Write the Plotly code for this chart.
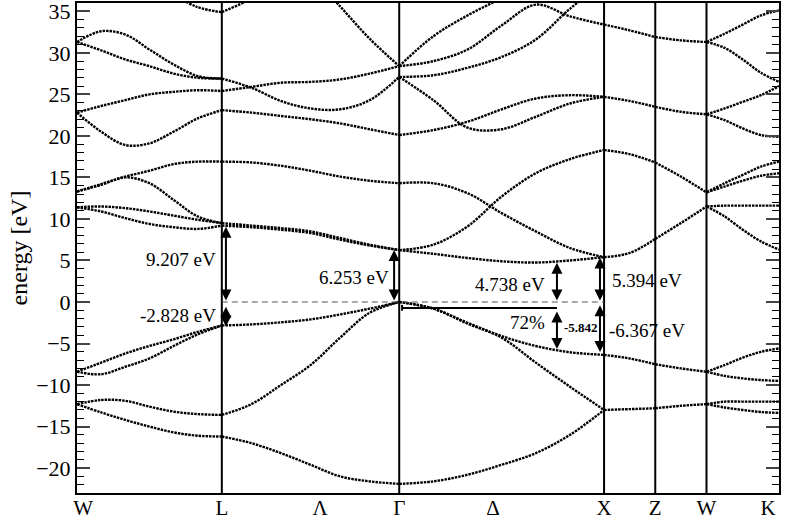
import numpy as np
import plotly.graph_objects as go

# points de haute symétrie (chemin fcc W-L-Γ-X-Z-W-K, unités 2π/a)
K_W1, K_L, K_G, K_X, K_Z, K_W2, K_K = 0.0, 0.707, 1.573, 2.573, 2.823, 3.073, 3.427
TICK_POS = [0.03, K_L, 1.187, K_G, 2.031, K_X, K_Z, K_W2, 3.374]
TICK_TEXT = ["W", "L", "Λ", "Γ", "Δ", "X", "Z", "W", "K"]

# énergies des bandes [eV]
BANDS_WL = [
    [-12.3, -13.3, -14.2, -15.0, -15.7, -16.1, -16.2],
    [-12.3, -11.8, -11.9, -12.6, -13.2, -13.5, -13.6],
    [-8.4, -7.3, -6.2, -5.3, -4.5, -3.6, -2.83],
    [-8.4, -8.7, -7.8, -6.8, -5.3, -3.9, -2.83],
    [11.4, 11.5, 11.3, 10.9, 10.4, 9.9, 9.5],
    [11.4, 10.9, 10.1, 9.4, 9.0, 8.8, 9.2],
    [13.3, 14.1, 15.0, 14.3, 12.3, 10.3, 9.5],
    [13.3, 14.2, 15.1, 15.8, 16.6, 16.9, 16.9],
    [22.8, 23.6, 24.3, 25.0, 25.3, 25.5, 25.4],
    [22.8, 20.5, 18.9, 19.1, 20.5, 22.1, 23.1],
    [31.3, 32.6, 32.2, 30.4, 28.6, 27.2, 26.9],
    [31.3, 30.3, 29.2, 28.4, 27.5, 27.0, 26.9],
    [None, None, None, None, 37.0, 35.5, 34.9],
]
BANDS_LG = [
    [34.9, 36.5, 38.5, None, None, None, None],
    [None, None, None, 39.5, 35.6, 31.7, 28.4],
    [26.9, 25.8, 24.2, 23.3, 23.2, 24.3, 27.1],
    [25.4, 25.9, 26.4, 26.5, 26.8, 27.5, 28.4],
    [23.1, 22.8, 22.4, 22.0, 21.5, 20.8, 20.1],
    [16.9, 16.8, 16.4, 15.8, 15.1, 14.6, 14.3],
    [9.5, 9.2, 8.9, 8.5, 7.7, 6.9, 6.25],
    [9.2, 9.0, 8.7, 8.3, 7.5, 6.8, 6.25],
    [-2.83, -2.7, -2.45, -2.1, -1.5, -0.8, 0.0],
    [-13.6, -12.3, -10.0, -7.6, -4.3, -1.3, 0.0],
    [-16.2, -17.0, -18.2, -19.6, -21.0, -21.6, -21.9],
]
BANDS_GX = [
    [28.4, 32.0, 34.5, 36.6, 38.8, None, None],
    [28.4, 29.0, 30.4, 33.3, 35.8, 34.4, 33.4],
    [27.1, 27.3, 28.2, 29.5, 31.6, 35.3, 38.5],
    [27.1, 24.3, 21.0, 20.8, 22.3, 23.9, 24.7],
    [20.1, 20.7, 21.7, 23.2, 24.5, 24.9, 24.7],
    [14.3, 14.3, 13.1, 10.7, 8.5, 6.5, 5.4],
    [6.25, 6.9, 9.1, 12.7, 15.5, 17.2, 18.3],
    [6.25, 5.8, 5.3, 4.9, 4.75, 5.0, 5.4],
    [0.0, -0.8, -2.5, -4.1, -5.3, -6.05, -6.37],
    [0.0, -0.8, -2.6, -4.3, -7.3, -10.2, -13.0],
    [-21.9, -21.6, -20.8, -19.6, -18.2, -16.0, -13.0],
]
BANDS_XZ = [
    [33.4, 32.7, 31.9],
    [24.7, 24.2, 23.5],
    [18.3, 17.8, 16.8],
    [5.4, 5.9, 7.6],
    [-6.37, -6.8, -7.5],
    [-13.0, -12.9, -12.8],
]
BANDS_ZW = [
    [31.9, 31.5, 31.3],
    [23.5, 22.9, 22.6],
    [16.8, 15.1, 13.2],
    [7.6, 9.5, 11.5],
    [-7.5, -8.0, -8.4],
    [-12.8, -12.5, -12.3],
]
BANDS_WK = [
    [31.3, 32.3, 33.4, 34.5, 35.1],
    [31.3, 30.6, 29.2, 27.6, 26.5],
    [22.6, 23.3, 24.1, 24.9, 26.0],
    [22.6, 21.9, 20.9, 20.1, 19.9],
    [13.2, 14.3, 15.3, 16.3, 16.9],
    [13.2, 13.9, 14.6, 15.2, 15.5],
    [11.5, 11.6, 11.6, 11.6, 11.6],
    [11.5, 10.3, 8.7, 7.3, 6.3],
    [-8.4, -7.6, -6.7, -6.0, -5.6],
    [-8.4, -8.9, -9.2, -9.4, -9.5],
    [-12.3, -12.0, -12.0, -12.0, -12.0],
    [-12.3, -12.7, -13.0, -13.25, -13.35],
]

SEGMENTS = [
    (K_W1, K_L, BANDS_WL),
    (K_L, K_G, BANDS_LG),
    (K_G, K_X, BANDS_GX),
    (K_X, K_Z, BANDS_XZ),
    (K_Z, K_W2, BANDS_ZW),
    (K_W2, K_K, BANDS_WK),
]

# flèches de gap : (x, E bas, E haut)
ARROW_X = [K_L + 0.020, K_L + 0.020, K_G - 0.025, 2.343, 2.343, K_X - 0.020, K_X - 0.020]
ARROW_E0 = [0.0, -0.4, 0.0, 0.0, -5.84, 0.0, -6.2]
ARROW_E1 = [9.07, -2.95, 6.25, 4.72, -1.15, 5.35, -0.4]

# étiquettes : texte, position, ancrage
LABEL_TEXT = ["9.207 eV", "-2.828 eV", "6.253 eV", "4.738 eV", "72%", "-5.842", "5.394 eV", "-6.367 eV"]
LABEL_X = [0.686, 0.690, 1.535, 2.296, 2.296, 2.370, 2.600, 2.585]
LABEL_E = [5.1, -1.6, 3.0, 2.05, -2.5, -3.1, 2.6, -3.4]
LABEL_ANCHOR = ["right", "right", "right", "right", "right", "left", "left", "left"]

FONT = "Liberation Serif"

fig = go.Figure()

for k0, k1, bands in SEGMENTS:
    for b in bands:
        xs = np.linspace(k0, k1, len(b))
        fig.add_trace(go.Scatter(
            x=xs, y=b, mode="lines", showlegend=False, hoverinfo="skip",
            line=dict(color="black", width=2.4, dash="2.5px,1px", shape="spline", smoothing=1.0),
        ))

# lignes verticales aux points de haute symétrie
for k in [K_L, K_G, K_X, K_Z, K_W2]:
    fig.add_shape(type="line", x0=k, x1=k, y0=0, y1=1, xref="x", yref="paper",
                  line=dict(color="black", width=2))

# niveau de référence (tirets) entre L et X
fig.add_shape(type="line", x0=K_L, x1=K_X, y0=0, y1=0, xref="x", yref="y",
              line=dict(color="#555555", width=1.2, dash="6px,4px"))

# barre 72%
fig.add_shape(type="line", x0=1.587, x1=2.343, y0=-0.72, y1=-0.72,
              line=dict(color="black", width=2))
fig.add_shape(type="line", x0=1.587, x1=1.587, y0=-0.35, y1=-1.05,
              line=dict(color="black", width=2))

for x, e0, e1 in zip(ARROW_X, ARROW_E0, ARROW_E1):
    fig.add_annotation(x=x, y=e1, ax=x, ay=e0, xref="x", yref="y", axref="x", ayref="y",
                       text="", showarrow=True, arrowside="end+start", arrowhead=2,
                       arrowsize=1.1, arrowwidth=2, arrowcolor="black", standoff=0, startstandoff=0)

for t, x, e, anc in zip(LABEL_TEXT, LABEL_X, LABEL_E, LABEL_ANCHOR):
    bold = t == "-5.842"
    fig.add_annotation(x=x, y=e, xref="x", yref="y", text=f"<b>{t}</b>" if bold else t,
                       showarrow=False, xanchor=anc, yanchor="middle",
                       font=dict(family=FONT, size=13 if bold else 19, color="black"))

fig.update_layout(
    width=790, height=522,
    margin=dict(l=77, r=11, t=3, b=29, autoexpand=False),
    plot_bgcolor="white", paper_bgcolor="white",
    font=dict(family=FONT, size=22, color="black"),
)
fig.update_xaxes(
    range=[K_W1, K_K], tickvals=TICK_POS, ticktext=TICK_TEXT, ticks="", automargin=False,
    showgrid=False, zeroline=False, showline=True, linecolor="black", linewidth=2, mirror=True,
    tickfont=dict(family=FONT, size=21), ticklabeloverflow="allow", ticklabelstandoff=-5,
)
fig.update_yaxes(
    range=[-23, 36], dtick=5, tick0=0, ticks="inside", ticklen=13, tickwidth=1.5, automargin=False,
    minor=dict(ticks="inside", dtick=1, ticklen=7, tickwidth=1.2, tickcolor="black"),
    showgrid=False, zeroline=False, showline=True, linecolor="black", linewidth=2, mirror="ticks",
    title=dict(text="energy [eV]", font=dict(family=FONT, size=24), standoff=2),
    tickfont=dict(family=FONT, size=22), ticklabeloverflow="allow",
)

# la page ajoute une marge de 8 px autour du graphique : on la supprime
fig.write_html("out.html", config={"displayModeBar": False},
               post_script="document.body.style.margin='0';")
